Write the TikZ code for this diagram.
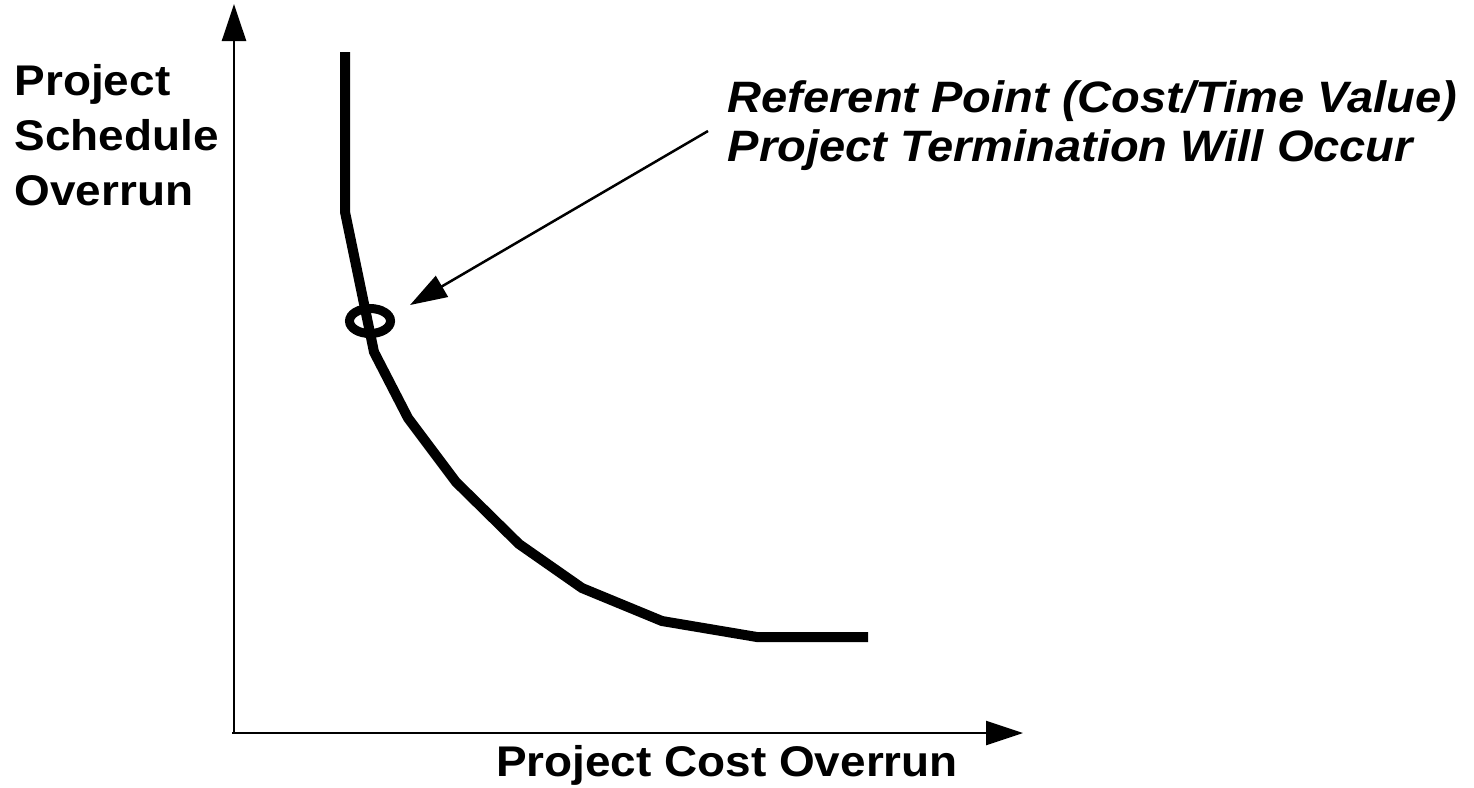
\documentclass[tikz,border=0pt]{standalone}
\usepackage{fontspec}
\setmainfont{Liberation Sans}[FakeStretch=1.07]
\usetikzlibrary{arrows.meta,shapes.geometric}
\begin{document}
\begin{tikzpicture}[x=0.01cm,y=-0.01cm,
  axis/.style={line width=0.025cm,-{Triangle[length=0.37cm,width=0.24cm]}},
  curve/.style={line width=0.1cm},
  label/.style={inner sep=0pt,font=\fontsize{12.2}{15.6}\selectfont\bfseries,align=left}]
\useasboundingbox (0,0) rectangle (1474,787);

\coordinate (O) at (234,733);
\coordinate (Ytip) at (234,4);
\coordinate (Xtip) at (1023,733);
\draw[axis] (232,733) -- (Xtip);
\draw[axis] (O) -- (Ytip);

\node[label,anchor=base west] (ylab) at (14,205) {Project\\Schedule\\Overrun};
\node[label,anchor=base] (xlab) at (727,776) {Project Cost Overrun};

% trade-off curve
\draw[curve] (345,52) -- (345,212) -- (374,352) -- (408,418) -- (456,482)
  -- (519,544) -- (582,588) -- (662,621) -- (757,637) -- (868,637);
\node[draw,line width=0.09cm,ellipse,minimum width=0.41cm,minimum height=0.25cm,inner sep=0pt] (ref) at (370,321) {};

\node[label,anchor=base west,font=\fontsize{12.5}{13.9}\selectfont\bfseries\itshape] (note) at (727,161)
  {Referent Point (Cost/Time Value)\\Project Termination Will Occur};
\coordinate (calloutstart) at (708,131);
\coordinate (calloutend) at (410,305);
\draw[axis] (calloutstart) -- (calloutend);
\end{tikzpicture}
\end{document}
